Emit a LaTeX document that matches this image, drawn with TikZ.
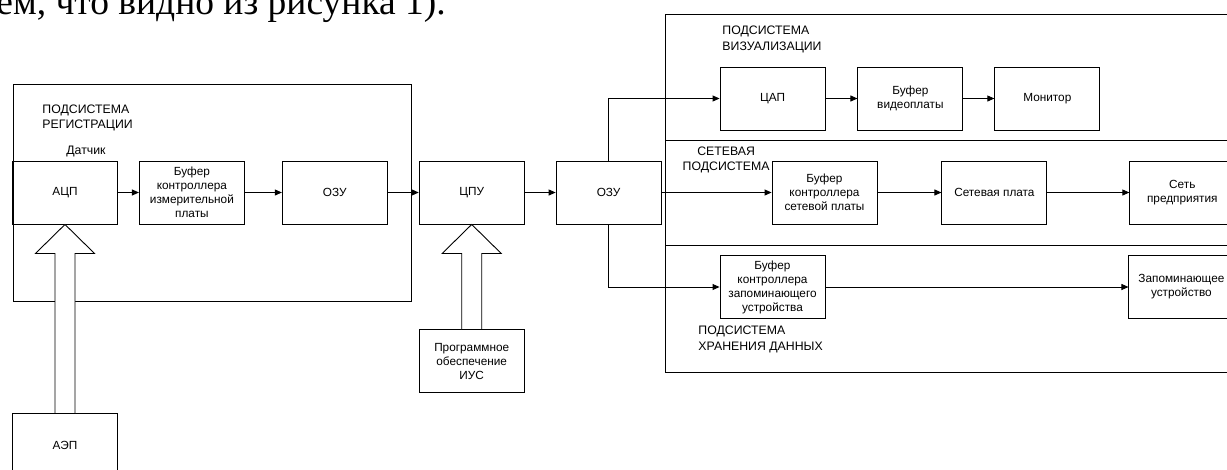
\documentclass[tikz,border=0pt]{standalone}
\usepackage{fontspec}
\setmainfont{Liberation Sans}
\newfontfamily\textserif{Liberation Serif}
\usetikzlibrary{arrows.meta, graphs, positioning}

\tikzset{
    block/.style={draw, line width=0.9pt, minimum width=105pt, minimum height=63pt,
                  align=center, inner sep=2pt, font=\fontsize{11.8}{14}\selectfont},
    caption/.style={inner sep=0pt, align=left, font=\fontsize{12.3}{15.5}\selectfont},
    frame/.style={draw, line width=0.9pt},
    hollow/.style={draw, fill=white, line width=0.9pt},
}

\begin{document}
\begin{tikzpicture}[x=1pt, y=-1pt, line width=0.9pt, >={Triangle[length=7pt, width=6pt]}]
    \useasboundingbox (0,0) rectangle (1227,469);
    \clip (0,0) rectangle (1227,469);
    \node[anchor=base west, inner sep=0pt, font=\textserif\fontsize{37.5}{40}\selectfont] (Text) at (-4,14) {ем, что видно из рисунка 1).};

    % 左邊: 登記子系統
    \draw[frame] (13,84) rectangle (411,301);
    \node[caption, anchor=west] (Reg label) at (42,118) {ПОДСИСТЕМА\\РЕГИСТРАЦИИ};
    \node[caption]              (Sensor)    at (86,151) {Датчик};

    \node[block] (ADC) at (65,192.5) {АЦП};
    \node[block, right=21pt of ADC]      (Buffer 1) {Буфер\\контроллера\\измерительной\\платы};
    \node[block, right=37pt of Buffer 1] (RAM 1)    {ОЗУ};
    \node[block, right=31pt of RAM 1]    (CPU)      {ЦПУ};
    \node[block, right=31pt of CPU]      (RAM 2)    {ОЗУ};

    \node[block, below=189pt of ADC] (AEP)      {АЭП};
    \node[block, below=105pt of CPU] (Software) {Программное\\обеспечение\\ИУС};

    % 右邊: 三個子系統
    \draw[frame] (665,14) rectangle (1240,372);
    \draw[frame] (665,140) -- (1240,140);
    \draw[frame] (665,245) -- (1240,245);
    \node[caption, anchor=west]               (Vis label)   at (722,39.5)  {ПОДСИСТЕМА\\ВИЗУАЛИЗАЦИИ};
    \node[caption, align=center, anchor=east] (Net label)   at (770,160)   {СЕТЕВАЯ\\ПОДСИСТЕМА};
    \node[caption, anchor=west]               (Store label) at (698,339.5) {ПОДСИСТЕМА\\ХРАНЕНИЯ ДАННЫХ};

    \node[block] (DAC) at (772.5,98.5) {ЦАП};
    \node[block, right=32pt of DAC]          (Video buffer)   {Буфер\\видеоплаты};
    \node[block, right=31pt of Video buffer] (Monitor)        {Монитор};

    \node[block] (Net buffer) at (824.5,192.5) {Буфер\\контроллера\\сетевой платы};
    \node[block, right=64pt of Net buffer]   (Net card)       {Сетевая плата};
    \node[block, right=82pt of Net card]     (Enterprise net) {Сеть\\предприятия};

    \node[block] (Storage buffer) at (772.5,287) {Буфер\\контроллера\\запоминающего\\устройства};
    \node[block, right=303pt of Storage buffer] (Storage) {Запоминающее\\устройство};

    \graph{
        (ADC) -> (Buffer 1) -> (RAM 1) -> (CPU) -> (RAM 2) -> (Net buffer) -> (Net card) -> (Enterprise net);
        (DAC) -> (Video buffer) -> (Monitor);
        (Storage buffer) -> (Storage);
    };
    \draw[->] (RAM 2.north) |- (DAC);
    \draw[->] (RAM 2.south) |- (Storage buffer);

    % 空心的大箭頭
    \draw[hollow] (ADC.south) -- ++(29.5,29) -- ++(-19.5,0) -- ++(0,160) -- ++(-20,0)
                  -- ++(0,-160) -- ++(-19.5,0) -- cycle;
    \draw[hollow] (CPU.south) -- ++(29.5,29) -- ++(-19.5,0) -- ++(0,76) -- ++(-20,0)
                  -- ++(0,-76) -- ++(-19.5,0) -- cycle;
\end{tikzpicture}
\end{document}
